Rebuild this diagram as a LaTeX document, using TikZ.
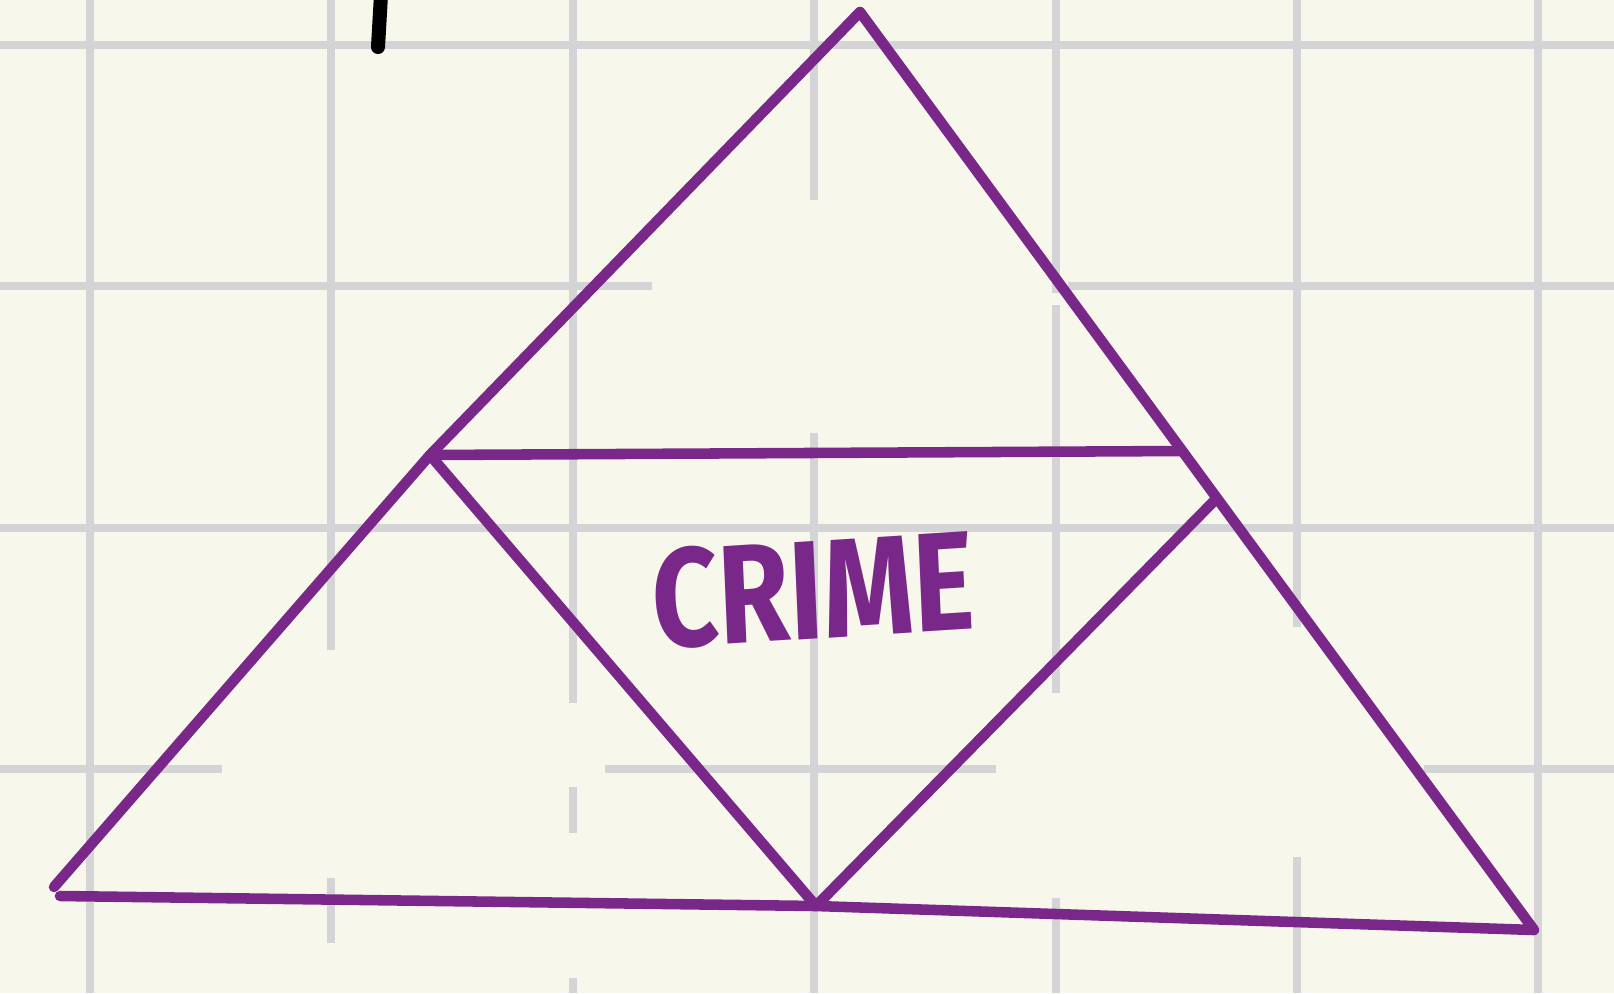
\documentclass[tikz,border=0pt]{standalone}
\usepackage{fontspec}
\setmainfont{Fira Sans}
\definecolor{paper}{RGB}{248,247,236}
\definecolor{rule}{RGB}{212,212,214}
\definecolor{ink}{RGB}{121,40,137}

\begin{document}
\begin{tikzpicture}[x=0.01cm,y=-0.01cm,
  gridline/.style={draw=rule,line width=2.2pt},
  stroke/.style={draw=ink,line width=3pt,line cap=round,line join=round}]
\fill[paper] (0,0) rectangle (1614,993);
\useasboundingbox (0,0) rectangle (1614,993);

\draw[gridline] (90,0) -- (90,993) (1538,0) -- (1538,993)
  (331,0) -- (331,650) (331,878) -- (331,943)
  (573,0) -- (573,703) (573,787) -- (573,833) (573,978) -- (573,993)
  (814,0) -- (814,200) (814,433) -- (814,993)
  (1056,0) -- (1056,293) (1056,305) -- (1056,693) (1056,898) -- (1056,993)
  (1297,0) -- (1297,627) (1297,857) -- (1297,993);
\draw[gridline] (0,45) -- (1614,45) (0,528) -- (1614,528)
  (0,286) -- (652,286) (1068,286) -- (1614,286)
  (0,769) -- (222,769) (605,769) -- (996,769) (1424,769) -- (1614,769);

\draw[black,line width=4pt,line cap=round] (381,-5) -- (378,47);

\coordinate (top) at (860,12);
\coordinate (lmid) at (430,455);
\coordinate (left) at (54,887);
\coordinate (lbase) at (60,896);
\coordinate (bmid) at (816,906);
\coordinate (right) at (1534,930);
\coordinate (rmid) at (1182,451);
\coordinate (rlow) at (1216,499);

\draw[stroke] (left) -- (lmid) -- (top) -- (right) -- (bmid) -- (lbase);
\draw[stroke] (lmid) -- (rmid);
\draw[stroke] (lmid) -- (bmid) -- (rlow);

\node[ink,font=\bfseries\fontsize{40}{40}\selectfont,xscale=0.82,rotate=3] (crime) at (813,590) {CRIME};
\end{tikzpicture}
\end{document}
